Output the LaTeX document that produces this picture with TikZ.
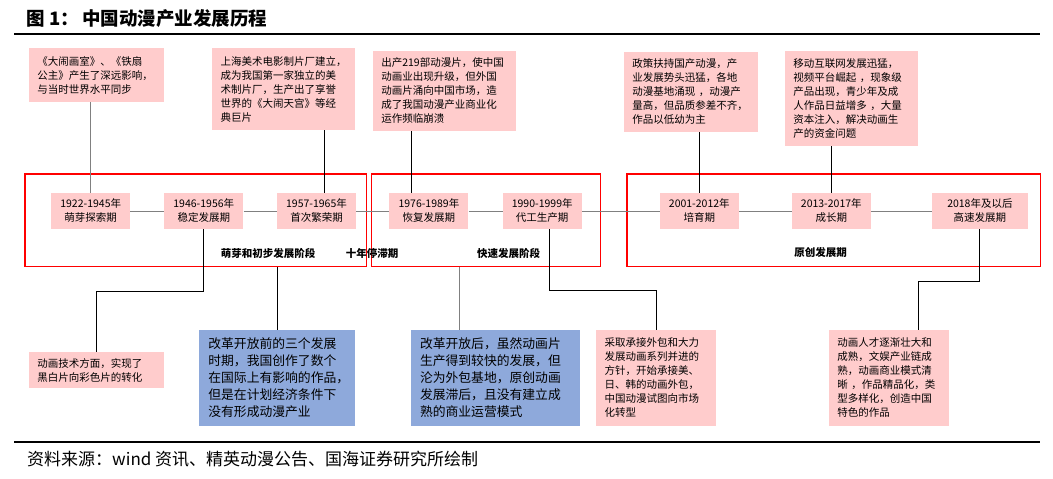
\documentclass[tikz,border=0pt]{standalone}
\usepackage{fontspec}
\setmainfont{Noto Sans CJK SC}
\usepackage{tikz}
\usetikzlibrary{calc,positioning}
\definecolor{pinkbox}{RGB}{255,204,204}
\definecolor{bluebox}{RGB}{142,169,219}
\definecolor{linegray}{RGB}{128,128,128}

\begin{document}
\begin{tikzpicture}[x=1pt,y=-1pt,
  period/.style={fill=pinkbox, minimum width=79pt, minimum height=36pt, inner sep=0pt, align=center, font=\fontsize{10.5}{14}\selectfont},
  note/.style={fill=pinkbox, inner xsep=8.5pt, inner ysep=0pt, align=left, font=\fontsize{10.5}{14}\selectfont},
  bignote/.style={note, fill=bluebox, inner xsep=9pt, font=\fontsize{12.8}{17}\selectfont},
  frame/.style={draw=red, line width=1.2pt, inner sep=0pt, minimum height=92.5pt},
  stage/.style={inner sep=0pt, font=\bfseries\fontsize{10.5}{13}\selectfont},
  link/.style={black, line width=0.9pt},
  glink/.style={linegray, line width=0.9pt}]
\useasboundingbox (0,0) rectangle (1053,479);

% title and rules
\node[anchor=west, inner sep=0pt, font=\bfseries\fontsize{18.5}{20}\selectfont] (title) at (26,19) {图\hspace{5pt}1：\hspace{3pt}中国动漫产业发展历程};
\draw[line width=1.3pt] (14,34) -- (1040,34);
\draw[line width=1.3pt] (14,442) -- (1040,442);
\node[anchor=west, inner sep=0pt, font=\fontsize{17}{20}\selectfont] (src) at (27,459) {资料来源：wind 资讯、精英动漫公告、国海证券研究所绘制};

% phases
\node[frame, minimum width=341.5pt] (ph1) at (195.75,220.25) {};
\node[frame, minimum width=229pt] (ph2) at (486,220.25) {};
\node[frame, minimum width=413.5pt] (ph3) at (833.75,220.25) {};

% periods on the time line
\node[period] (p1) at (90.7,211) {1922-1945年\\萌芽探索期};
\node[period] (p2) at (203.8,211) {1946-1956年\\稳定发展期};
\node[period] (p3) at (316.5,211) {1957-1965年\\首次繁荣期};
\node[period] (p4) at (428.9,211) {1976-1989年\\恢复发展期};
\node[period] (p5) at (542.2,211) {1990-1999年\\代工生产期};
\node[period] (p6) at (699.3,211) {2001-2012年\\培育期};
\node[period] (p7) at (831.3,211) {2013-2017年\\成长期};
\node[period, minimum width=96pt] (p8) at (979.9,211) {2018年及以后\\高速发展期};
\foreach \a/\b in {p1/p2,p2/p3,p3/p4,p4/p5,p5/p6,p6/p7,p7/p8}
  \draw[glink] (\a) -- (\b);

\node[stage] (s1) at (268,253) {萌芽和初步发展阶段};
\node[stage] (s2) at (372,253) {十年停滞期};
\node[stage] (s3) at (508.5,253) {快速发展阶段};
\node[stage] (s4) at (820.5,253) {原创发展期};

% notes above
\node[note, text width=118pt, minimum height=54pt] (t1) at (96.5,75) {《大闹画室》、《铁扇\\公主》产生了深远影响，\\与当时世界水平同步};
\node[note, text width=126pt, minimum height=82pt] (t2) at (283.5,89) {上海美术电影制片厂建立，\\成为我国第一家独立的美\\术制片厂，生产出了享誉\\世界的《大闹天宫》等经\\典巨片};
\node[note, text width=126pt, minimum height=80pt] (t3) at (444.3,90.8) {出产219部动漫片，使中国\\动画业出现升级，但外国\\动画片涌向中国市场，造\\成了我国动漫产业商业化\\运作频临崩溃};
\node[note, text width=117pt, minimum height=80pt] (t4) at (690.8,91.8) {政策扶持国产动漫，产\\业发展势头迅猛，各地\\动漫基地涌现 ，动漫产\\量高，但品质参差不齐，\\作品以低幼为主};
\node[note, text width=116pt, minimum height=95pt] (t5) at (851.3,98.3) {移动互联网发展迅猛，\\视频平台崛起 ，现象级\\产品出现，青少年及成\\人作品日益增多 ，大量\\资本注入，解决动画生\\产的资金问题};

% notes below
\node[note, text width=118pt, minimum height=36pt] (b1) at (96.5,370) {动画技术方面，实现了\\黑白片向彩色片的转化};
\node[bignote, text width=137.7pt, minimum height=95.7pt] (b2) at (277.2,377.8) {改革开放前的三个发展\\时期，我国创作了数个\\在国际上有影响的作品，\\但是在计划经济条件下\\没有形成动漫产业};
\node[bignote, text width=151pt, minimum height=95.7pt] (b3) at (495.5,377.8) {改革开放后，虽然动画片\\生产得到较快的发展，但\\沦为外包基地，原创动画\\发展滞后，且没有建立成\\熟的商业运营模式};
\node[note, text width=103pt, minimum height=95.7pt] (b4) at (656,377.8) {采取承接外包和大力\\发展动画系列并进的\\方针，开始承接美、\\日、韩的动画外包，\\中国动漫试图向市场\\化转型};
\node[note, text width=103pt, minimum height=95.7pt] (b5) at (888.9,377.8) {动画人才逐渐壮大和\\成熟，文娱产业链成\\熟，动画商业模式清\\晰 ，作品精品化，类\\型多样化，创造中国\\特色的作品};

% connectors
\coordinate (p3up) at ([xshift=8pt]p3.north);
\coordinate (p4up) at ([xshift=-17pt]p4.north);
\coordinate (p5dn) at ([xshift=7pt]p5.south);
\coordinate (b3up) at ([xshift=-36.5pt]b3.north);
\coordinate (b5up) at ([xshift=29.5pt]b5.north);
\draw[glink] (p1.north) -- (p1.north |- t1.south);
\draw[link] (p3up) -- (p3up |- t2.south);
\draw[link] (p4up) -- (p4up |- t3.south);
\draw[link] (p6.north) -- (p6.north |- t4.south);
\draw[link] (p7.north) -- (p7.north |- t5.south);
\draw[link] (p2.south) -- ++(0,62) -| (b1.north);
\draw[link] (b2.north) -- (b2.north |- ph1.south);
\draw[glink] (b3up) -- (b3up |- ph2.south);
\draw[link] (p5dn) -- ++(0,61) -| (b4.north);
\draw[link] (p8.south) -- ++(0,52) -| (b5up);
\end{tikzpicture}
\end{document}
